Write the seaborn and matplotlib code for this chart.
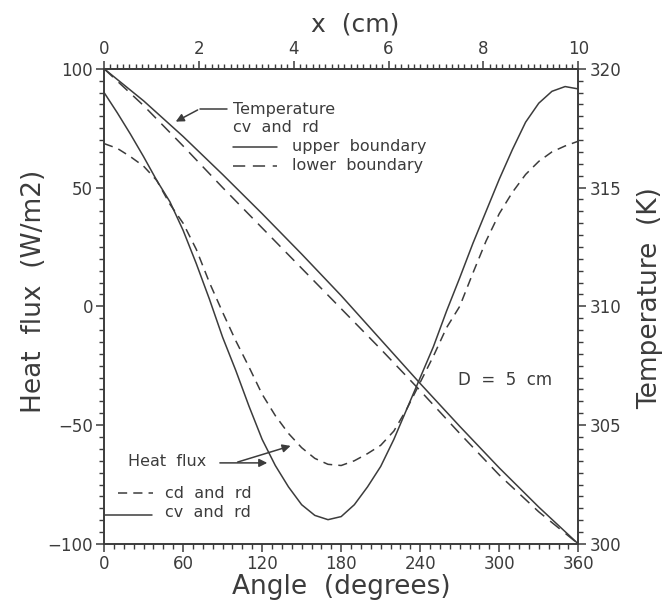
import numpy as np
import pandas as pd
import matplotlib
matplotlib.use("Agg")
from matplotlib import pyplot as plt
from matplotlib.ticker import MultipleLocator, FixedLocator
import seaborn as sns

# heat flux (W/m2), every 10 degrees
angle = list(range(0, 361, 10))
flux_cv = [90, 81.5, 72.5, 63, 53, 44, 32, 18, 3, -13, -27, -42, -56, -67, -76,
           -83.5, -88, -89.8, -88.5, -83.5, -76, -67.4, -56, -43, -30, -17, -2,
           12, 26.5, 40, 53.5, 66, 77.5, 85.5, 90.5, 92.5, 91.5]
flux_cd = [68.5, 66.5, 63, 59, 53, 43, 35, 24, 10, -2.5, -14.5, -25.5, -37, -46,
           -53.5, -59.5, -64, -66.5, -67, -65, -62, -58.5, -52.5, -43, -32, -21,
           -9, 0, 14, 27.5, 39, 48, 55.5, 61, 65, 67.5, 69.5]

# boundary temperatures (K), every 30 degrees
angle_t = list(range(0, 361, 30))
temp_upper = [320, 318.65, 317.15, 315.55, 313.9, 312.2, 310.45, 308.6, 306.75,
              304.95, 303.2, 301.55, 300]
temp_lower = [320, 318.45, 316.75, 315.0, 313.3, 311.6, 309.9, 308.2, 306.45,
              304.65, 302.9, 301.35, 300]

cm_ticks = [0, 2, 4, 6, 8, 10]

flux = pd.DataFrame({"angle": angle, "cv": flux_cv, "cd": flux_cd})
temp = pd.DataFrame({"angle": angle_t, "upper": temp_upper, "lower": temp_lower})

sns.set_style("ticks")
plt.rcParams["font.family"] = ["DejaVu Sans"]
ink = "#3c3c3c"
plt.rcParams.update({
    "axes.edgecolor": ink, "xtick.color": ink, "ytick.color": ink,
    "text.color": ink, "axes.labelcolor": ink, "axes.linewidth": 1.2,
})

fig = plt.figure(figsize=(6.67, 6.03), dpi=100)
ax = fig.add_axes([0.156, 0.098, 0.711, 0.788])
ax2 = ax.twinx()

lw = 1.1
sns.lineplot(data=flux, x="angle", y="cv", ax=ax, color=ink, linewidth=lw)
sns.lineplot(data=flux, x="angle", y="cd", ax=ax, color=ink, linewidth=lw,
             linestyle=(0, (6, 4)))
sns.lineplot(data=temp, x="angle", y="upper", ax=ax2, color=ink, linewidth=lw)
sns.lineplot(data=temp, x="angle", y="lower", ax=ax2, color=ink, linewidth=lw,
             linestyle=(0, (8, 5)))

ax.set_xlim(0, 360)
ax.set_ylim(-100, 100)
ax2.set_ylim(300, 320)
ax.xaxis.set_major_locator(MultipleLocator(60))
ax.xaxis.set_minor_locator(MultipleLocator(7.5))
ax.yaxis.set_major_locator(MultipleLocator(50))
ax.yaxis.set_minor_locator(MultipleLocator(5))
ax2.yaxis.set_major_locator(MultipleLocator(5))
ax2.yaxis.set_minor_locator(MultipleLocator(0.5))

top = ax.secondary_xaxis("top", functions=(lambda a: a / 36.0, lambda c: c * 36.0))
top.xaxis.set_major_locator(FixedLocator(cm_ticks))
top.xaxis.set_minor_locator(FixedLocator(list(np.arange(0, 10.01, 2 / 15))))
top.set_xlabel("x  (cm)", fontsize=18, labelpad=6)
top.xaxis.label.set_x(0.53)

for a in (ax, ax2, top):
    a.tick_params(which="major", direction="out", length=6, width=1.1, labelsize=12, pad=2)
    a.tick_params(which="minor", direction="out", length=3.5, width=1.0)

ax.set_xlabel("Angle  (degrees)", fontsize=19)
ax.xaxis.set_label_coords(0.5, -0.063)
ax.set_ylabel("Heat  flux  (W/m2)", fontsize=19)
ax.yaxis.set_label_coords(-0.12, 0.531)
ax2.set_ylabel("Temperature  (K)", fontsize=19)
ax2.yaxis.set_label_coords(1.124, 0.518)

# temperature key
tf = 11.5
ax.text(0.272, 0.914, "Temperature", transform=ax.transAxes, fontsize=tf, va="center")
ax.text(0.272, 0.876, "cv  and  rd", transform=ax.transAxes, fontsize=tf, va="center")
ax.plot([0.272, 0.365], [0.836, 0.836], transform=ax.transAxes, color=ink, lw=lw)
ax.text(0.397, 0.836, "upper  boundary", transform=ax.transAxes, fontsize=tf, va="center")
ax.plot([0.272, 0.365], [0.796, 0.796], transform=ax.transAxes, color=ink, lw=lw,
        linestyle=(0, (8, 5)))
ax.text(0.397, 0.796, "lower  boundary", transform=ax.transAxes, fontsize=tf, va="center")
ax.plot([0.2588, 0.2025], [0.916, 0.916], transform=ax.transAxes, color=ink, lw=lw)
ax.annotate("", xy=(0.146, 0.886), xytext=(0.2025, 0.916), xycoords="axes fraction",
            arrowprops=dict(arrowstyle="-|>", color=ink, lw=lw, mutation_scale=12))

# heat flux key
ax.text(0.0506, 0.1726, "Heat  flux", transform=ax.transAxes, fontsize=tf, va="center")
ax.annotate("", xy=(0.350, 0.1705), xytext=(0.2384, 0.1705), xycoords="axes fraction",
            arrowprops=dict(arrowstyle="-|>", color=ink, lw=lw, mutation_scale=12))
ax.annotate("", xy=(0.399, 0.208), xytext=(0.276, 0.1705), xycoords="axes fraction",
            arrowprops=dict(arrowstyle="-|>", color=ink, lw=lw, mutation_scale=12))
ax.plot([0.0295, 0.103], [0.107, 0.107], transform=ax.transAxes, color=ink, lw=lw,
        linestyle=(0, (6, 4)))
ax.text(0.129, 0.107, "cd  and  rd", transform=ax.transAxes, fontsize=tf, va="center")
ax.plot([0.002, 0.101], [0.061, 0.061], transform=ax.transAxes, color=ink, lw=lw)
ax.text(0.129, 0.067, "cv  and  rd", transform=ax.transAxes, fontsize=tf, va="center")

ax.text(0.747, 0.345, "D  =  5  cm", transform=ax.transAxes, fontsize=12, va="center")

fig.savefig("out.png", dpi=100)
